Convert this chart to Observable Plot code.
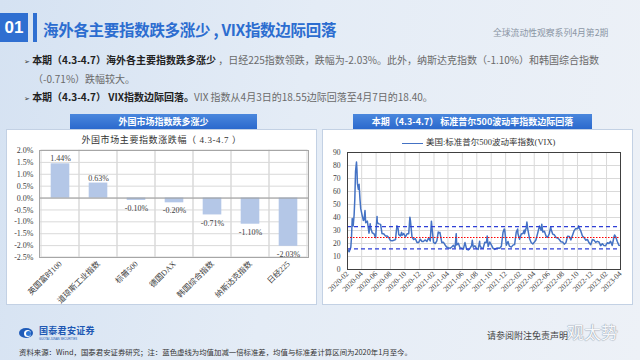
<!DOCTYPE html>
<html>
<head>
<meta charset="utf-8">
<script src="https://cdn.jsdelivr.net/npm/d3@7"></script>
<script src="https://cdn.jsdelivr.net/npm/@observablehq/plot@0.6"></script>
<style>
  html, body { margin: 0; padding: 0; }
  body {
    width: 640px; height: 360px; overflow: hidden; position: relative;
    background: linear-gradient(100deg, #d5e2f2 0%, #e4ecf6 45%, #edf1f7 100%);
    font-family: "Noto Sans CJK SC", "Noto Sans", sans-serif;
  }
  .abs { position: absolute; white-space: nowrap; }
  .panel { position: absolute; background: #fff; border: 1px solid #c3d1e4; box-sizing: border-box; }
  .bar { position: absolute; background: linear-gradient(180deg, #4a87dd 0%, #2b69cd 100%); color: #fff;
         font-weight: 700; font-size: 9px; text-align: center; line-height: 15px; height: 15px; }
  .serif { font-family: "Liberation Serif", "Noto Sans CJK SC", serif; }
  .b { color: #222; font-weight: 700; }
  .n { color: #6a6a6a; }
</style>
</head>
<body>
<div class="abs" style="left:0;top:13px;width:28px;height:29px;background:#2f6fd1;color:#fff;font:700 17px/29px 'Liberation Sans',Arial,sans-serif;text-align:center;">01</div>
<div class="abs" style="left:33px;top:13px;width:4px;height:29px;background:#2f6fd1;"></div>
<div class="abs" style="left:43px;top:19px;font-size:15.5px;line-height:20px;font-weight:700;color:#2c6dd0;letter-spacing:-0.3px;">海外各主要指数跌多涨少 , VIX指数边际回落</div>
<div class="abs" style="left:493px;top:27px;font-size:8.8px;line-height:12px;color:#8b96a5;">全球流动性观察系列4月第2期</div>

<div class="abs" style="left:24px;top:53px;font-size:10px;line-height:14px;">
  <span style="font-family:'DejaVu Sans';font-size:7px;color:#333;">➢</span>
  <span class="b">本期（4.3-4.7）海外各主要指数跌多涨少 </span><span class="n">，日经225指数领跌，跌幅为-2.03%。此外，纳斯达克指数（-1.10%）和韩国综合指数</span>
</div>
<div class="abs n" style="left:33px;top:72px;font-size:10px;line-height:14px;">（-0.71%）跌幅较大。</div>
<div class="abs" style="left:24px;top:90px;font-size:10px;line-height:14px;">
  <span style="font-family:'DejaVu Sans';font-size:7px;color:#333;">➢</span>
  <span class="b">本期（4.3-4.7） VIX指数边际回落。</span><span class="n">VIX 指数从4月3日的18.55边际回落至4月7日的18.40。</span>
</div>

<div class="panel" style="left:6px;top:129px;width:311px;height:176px;"></div>
<div class="panel" style="left:322px;top:129px;width:311px;height:176px;"></div>
<div class="bar" style="left:70px;top:114px;width:187px;">外国市场指数跌多涨少</div>
<div class="bar" style="left:353px;top:114px;width:239px;">本期（4.3-4.7） 标准普尔500波动率指数边际回落</div>

<div class="abs serif" style="left:6px;width:311px;top:134px;text-align:center;font-size:9px;line-height:12px;color:#333;letter-spacing:0.6px;">外国市场主要指数涨跌幅（ 4.3-4.7 ）</div>

<div class="abs serif" style="left:402px;top:136px;font-size:8.5px;line-height:12px;color:#333;">
  <span style="display:inline-block;width:21px;height:0;border-top:1.6px solid #4472c4;vertical-align:middle;margin-right:3px;"></span>美国:标准普尔500波动率指数(VIX)
</div>

<div id="left" class="abs" style="left:6px;top:146px;"></div>
<div id="right" class="abs" style="left:322px;top:146px;"></div>

<div class="abs" style="left:19px;top:328px;width:14px;height:10px;border-radius:50%;background:#1f5bb8;"></div>
<div class="abs" style="left:24px;top:329.5px;width:7px;height:7px;border-radius:50%;background:#fff;"></div>
<div class="abs" style="left:26px;top:330.5px;width:5px;height:5px;border-radius:50%;background:#2f78d6;"></div>
<div class="abs" style="left:39px;top:325px;font-size:9px;line-height:11px;font-weight:700;color:#2058b3;letter-spacing:0.3px;">国泰君安证券</div>
<div class="abs" style="left:39px;top:338px;font-size:2.8px;line-height:3px;color:#2058b3;font-family:'Liberation Sans';">GUOTAI JUNAN SECURITIES</div>
<div class="abs" style="left:19px;top:347px;font-size:7.4px;line-height:10px;color:#333;">资料来源：Wind，国泰君安证券研究；注：蓝色虚线为均值加减一倍标准差，均值与标准差计算区间为2020年1月至今。</div>
<div class="abs" style="left:487px;top:330px;font-size:9px;line-height:12px;color:#444;">请参阅附注免责声明</div>
<div class="abs" style="left:567px;top:322px;font-size:17px;line-height:20px;color:#f6f8fb;text-shadow:0 0 1px #8a94a3, 0 0 1px #8a94a3;">观太势</div>

<script>
// ---------- Left chart data ----------
const marketNames = ["英国富时100", "道琼斯工业指数", "标普500", "德国DAX", "韩国综合指数", "纳斯达克指数", "日经225"];
const marketChanges = [1.44, 0.63, -0.10, -0.20, -0.71, -1.10, -2.03];
const barYTicks = [-2.5, -2.0, -1.5, -1.0, -0.5, 0.0, 0.5, 1.0, 1.5, 2.0];

// ---------- Right chart data ----------
const vixTickLabels = ["2020-02","2020-04","2020-06","2020-08","2020-10","2020-12","2021-02","2021-04","2021-06","2021-08","2021-10","2021-12","2022-02","2022-04","2022-06","2022-08","2022-10","2022-12","2023-02","2023-04"];
const vixYTicks = [0, 10, 20, 30, 40, 50, 60, 70, 80, 90];
const vixDates = [
"2020-02-07","2020-02-14","2020-02-21","2020-02-24","2020-02-27","2020-03-02","2020-03-06","2020-03-09","2020-03-12","2020-03-16","2020-03-18","2020-03-20","2020-03-24","2020-03-27","2020-03-31","2020-04-03","2020-04-09","2020-04-14","2020-04-17","2020-04-21","2020-04-24","2020-05-01","2020-05-08","2020-05-13","2020-05-15","2020-05-22","2020-05-29","2020-06-05","2020-06-11","2020-06-12","2020-06-19","2020-06-26","2020-07-02","2020-07-10","2020-07-17","2020-07-24","2020-07-31","2020-08-07","2020-08-14","2020-08-21","2020-08-28","2020-09-03","2020-09-08","2020-09-11","2020-09-18","2020-09-23","2020-09-25","2020-10-02","2020-10-09","2020-10-16","2020-10-23","2020-10-28","2020-10-30","2020-11-06","2020-11-13","2020-11-20","2020-11-27","2020-12-04","2020-12-11","2020-12-18","2020-12-24","2020-12-31",
"2021-01-08","2021-01-15","2021-01-22","2021-01-27","2021-01-29","2021-02-05","2021-02-12","2021-02-19","2021-02-25","2021-02-26","2021-03-04","2021-03-12","2021-03-19","2021-03-26","2021-04-01","2021-04-09","2021-04-16","2021-04-23","2021-04-30","2021-05-07","2021-05-12","2021-05-14","2021-05-21","2021-05-28","2021-06-04","2021-06-11","2021-06-18","2021-06-25","2021-07-02","2021-07-09","2021-07-16","2021-07-19","2021-07-23","2021-07-30","2021-08-06","2021-08-13","2021-08-19","2021-08-20","2021-08-27","2021-09-03","2021-09-10","2021-09-17","2021-09-20","2021-09-24","2021-10-01","2021-10-08","2021-10-15","2021-10-22","2021-10-29","2021-11-05","2021-11-12","2021-11-19","2021-11-26","2021-12-01","2021-12-03","2021-12-10","2021-12-17","2021-12-23","2021-12-31",
"2022-01-07","2022-01-14","2022-01-21","2022-01-27","2022-01-28","2022-02-04","2022-02-11","2022-02-18","2022-02-24","2022-02-25","2022-03-04","2022-03-07","2022-03-11","2022-03-18","2022-03-25","2022-04-01","2022-04-08","2022-04-14","2022-04-22","2022-04-29","2022-05-06","2022-05-09","2022-05-13","2022-05-20","2022-05-27","2022-06-03","2022-06-10","2022-06-16","2022-06-17","2022-06-24","2022-07-01","2022-07-08","2022-07-15","2022-07-22","2022-07-29","2022-08-05","2022-08-12","2022-08-19","2022-08-26","2022-09-02","2022-09-09","2022-09-16","2022-09-23","2022-09-30","2022-10-07","2022-10-12","2022-10-14","2022-10-21","2022-10-28","2022-11-04","2022-11-11","2022-11-18","2022-11-25","2022-12-02","2022-12-09","2022-12-16","2022-12-23","2022-12-30",
"2023-01-06","2023-01-13","2023-01-20","2023-01-27","2023-02-03","2023-02-10","2023-02-17","2023-02-24","2023-03-03","2023-03-10","2023-03-13","2023-03-17","2023-03-24","2023-03-31","2023-04-03","2023-04-07"];
const vixValues = [
15.47,13.68,17.08,25.03,39.16,33.42,41.94,54.46,75.47,82.69,76.45,66.04,61.67,65.54,53.54,46.80,41.67,37.76,38.15,45.41,35.93,37.19,27.98,35.28,31.89,28.16,27.51,24.52,40.79,36.09,35.12,34.73,27.68,27.29,25.68,25.84,24.46,22.21,22.05,22.54,22.96,33.60,31.46,26.87,25.83,28.58,26.38,27.63,25.00,27.41,27.55,40.28,38.02,24.86,23.10,23.70,20.84,20.79,23.31,21.57,21.53,22.75,
21.56,24.34,21.91,37.21,33.09,20.87,19.97,22.05,28.89,27.95,28.57,20.69,20.95,18.86,17.33,16.69,16.25,17.33,18.61,16.69,27.59,18.81,20.15,16.76,16.42,15.65,20.70,15.62,15.07,16.18,18.45,22.50,17.20,18.24,16.15,15.45,21.67,18.56,16.39,16.41,20.95,20.81,25.71,17.75,21.15,18.77,16.30,15.43,16.26,16.48,16.29,17.91,28.62,31.12,30.67,18.69,21.57,17.96,17.22,
18.76,19.19,28.85,31.16,27.66,23.22,27.36,27.75,30.32,27.59,31.98,36.45,30.75,23.87,20.81,19.63,21.16,22.70,28.21,33.40,30.19,34.75,28.87,29.43,25.72,24.79,27.75,32.95,31.13,27.23,26.70,24.64,24.23,23.03,21.33,21.15,19.53,20.60,25.56,25.47,22.79,26.30,29.92,31.62,31.36,33.57,32.02,29.69,25.75,24.55,22.52,23.12,20.50,19.06,22.83,22.62,20.87,21.67,
21.13,18.35,19.85,18.51,18.33,20.53,20.02,21.67,18.49,24.80,26.52,25.51,21.74,18.70,18.55,18.40];
// mean - 1 std, mean, mean + 1 std
const vixBandLabels = ["均值-1倍标准差", "均值", "均值+1倍标准差"];
const vixBandValues = [15.9, 24.6, 33.0];

const serif = "'Liberation Serif', 'Noto Sans CJK SC', serif";

// ---------- Left bar chart ----------
const marketRows = marketNames.map((name, i) => ({name, value: marketChanges[i]}));
const left = Plot.plot({
  width: 311, height: 154,
  marginLeft: 33, marginRight: 9, marginTop: 4, marginBottom: 43,
  style: {fontFamily: serif, fontSize: "8px", color: "#404040", background: "transparent", overflow: "visible"},
  x: {domain: marketNames, padding: 0, label: null, tickRotate: -45, tickSize: 0, tickPadding: 5},
  y: {domain: [-2.5, 2.0], ticks: barYTicks, tickFormat: d => d.toFixed(1) + "%", label: null, tickSize: 0, tickPadding: 6},
  marks: [
    Plot.gridY(barYTicks, {stroke: "#d9d9d9", strokeOpacity: 1}),
    Plot.barY(marketNames, {x: d => d, y1: -2.5, y2: 2.0, fill: "none", stroke: "#d9d9d9"}),
    Plot.barY(marketRows, {x: "name", y1: 0, y2: "value", fill: "#b4c7e7", insetLeft: 9.7, insetRight: 9.7}),
    Plot.ruleY([0], {stroke: "#9a9a9a"}),
    Plot.text(marketRows.filter(d => d.value >= 0), {x: "name", y: "value", text: d => d.value.toFixed(2) + "%", dy: -5, fill: "#404040", fontSize: 8}),
    Plot.text(marketRows.filter(d => d.value < 0), {x: "name", y: "value", text: d => d.value.toFixed(2) + "%", dy: 8, fill: "#404040", fontSize: 8}),
    Plot.frame({stroke: "#a6a6a6"})
  ]
});
document.getElementById("left").appendChild(left);

// ---------- Right VIX chart ----------
const parseDay = d3.utcParse("%Y-%m-%d");
const vixRows = vixDates.map((d, i) => ({date: parseDay(d), value: vixValues[i]}));
const tickDates = vixTickLabels.map(s => parseDay(s + "-07"));
const bandRows = vixBandLabels.map((k, i) => ({kind: k, value: vixBandValues[i]}));
const right = Plot.plot({
  width: 311, height: 156,
  marginLeft: 25, marginRight: 13, marginTop: 6, marginBottom: 33,
  style: {fontFamily: serif, fontSize: "7.6px", color: "#404040", background: "transparent", overflow: "visible"},
  x: {type: "utc", domain: [tickDates[0], tickDates[tickDates.length - 1]], ticks: tickDates, tickFormat: d3.utcFormat("%Y-%m"), tickRotate: -45, tickSize: 0, tickPadding: 3, label: null},
  y: {domain: [0, 90], ticks: vixYTicks, label: null, tickSize: 0, tickPadding: 7},
  marks: [
    Plot.gridX(tickDates, {stroke: "#d9d9d9", strokeOpacity: 1}),
    Plot.gridY(vixYTicks, {stroke: "#d9d9d9", strokeOpacity: 1}),
    Plot.lineY(vixRows, {x: "date", y: "value", stroke: "#4472c4", strokeWidth: 1.5, clip: true}),
    Plot.ruleY(bandRows.filter(d => d.kind !== "均值"), {y: "value", stroke: "#2f3fd6", strokeWidth: 1.2, strokeDasharray: "4,3"}),
    Plot.ruleY(bandRows.filter(d => d.kind === "均值"), {y: "value", stroke: "#ff0000", strokeWidth: 1.2, strokeDasharray: "1.5,1.5"}),
    Plot.frame({stroke: "#404040"})
  ]
});
document.getElementById("right").appendChild(right);
</script>
</body>
</html>
